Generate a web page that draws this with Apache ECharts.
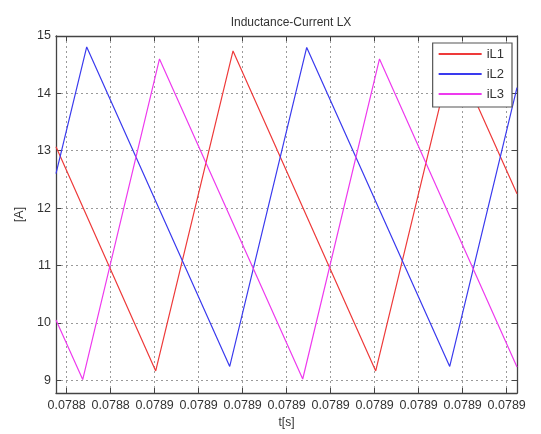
<!DOCTYPE html>
<html><head><meta charset="utf-8">
<script src="https://cdn.jsdelivr.net/npm/echarts@6/dist/echarts.min.js"></script>
<style>html,body{margin:0;padding:0;background:#fff}#c{width:541px;height:434px}</style>
</head><body><div id="c"></div>
<script>
// x values in tick-index units (tick k is labelled xTickLabels[k])
var xTickLabels = ['0.0788','0.0788','0.0789','0.0789','0.0789','0.0789','0.0789','0.0789','0.0789','0.0789','0.0789'];
var yTicks = [9, 10, 11, 12, 13, 14, 15];
var seriesNames = ['iL1', 'iL2', 'iL3'];
var iL1 = [[-0.243, 13.07], [2.023, 9.16], [3.78, 14.74], [7.023, 9.16], [8.78, 14.74], [10.234, 12.25]];
var iL2 = [[-0.243, 12.6], [0.455, 14.81], [3.705, 9.24], [5.455, 14.8], [8.705, 9.24], [10.234, 14.1]];
var iL3 = [[-0.243, 10.05], [0.364, 9.01], [2.109, 14.6], [5.364, 9.02], [7.109, 14.6], [10.234, 9.23]];

var xMin = -0.243, xMax = 10.234, yMin = 8.776, yMax = 15;
var xTicks = xTickLabels.map(function (_, i) { return i; });
var colors = ['#ee3a3a', '#3a3aee', '#ee3aee'];
var font = 'Liberation Sans, Arial, sans-serif';
var axisColor = '#444';

var chart = echarts.init(document.getElementById('c'), null, {renderer: 'canvas'});
function xAx(pos, show) {
  return {
    type: 'value', position: pos, min: xMin, max: xMax,
    name: show ? 't[s]' : '', nameLocation: 'middle', nameGap: 24,
    nameTextStyle: {fontFamily: font, fontSize: 12, color: '#333'},
    axisLine: {show: true, onZero: false, lineStyle: {color: axisColor, width: 1.3}},
    axisTick: {show: true, inside: true, length: 5, customValues: xTicks, lineStyle: {color: axisColor}},
    axisLabel: {show: show, customValues: xTicks, margin: 6, fontFamily: font, fontSize: 12.5, color: '#333',
      formatter: function (v) { var i = Math.round(v); return xTickLabels[i] || ''; }},
    splitLine: {show: show, lineStyle: {color: '#9a9a9a', type: [2, 3], width: 1}}
  };
}
function yAx(pos, show) {
  return {
    type: 'value', position: pos, min: yMin, max: yMax,
    name: show ? '[A]' : '', nameLocation: 'middle', nameGap: 28, nameRotate: 90,
    nameTextStyle: {fontFamily: font, fontSize: 12.5, color: '#333'},
    axisLine: {show: true, onZero: false, lineStyle: {color: axisColor, width: 1.3}},
    axisTick: {show: true, inside: true, length: 5, customValues: yTicks, lineStyle: {color: axisColor}},
    axisLabel: {show: show, customValues: yTicks, margin: 5, fontFamily: font, fontSize: 12.5, color: '#333'},
    splitLine: {show: show, lineStyle: {color: '#9a9a9a', type: [2, 3], width: 1}}
  };
}
var seriesData = [iL1, iL2, iL3];
chart.setOption({
  animation: false,
  backgroundColor: '#fff',
  title: {text: 'Inductance-Current LX', left: 286, textAlign: 'center', top: 12,
    textStyle: {fontFamily: font, fontSize: 12, fontWeight: 'normal', color: '#333'}},
  grid: {left: 56, top: 36, right: 24, bottom: 37},
  xAxis: [xAx('bottom', true), xAx('top', false)],
  yAxis: [yAx('left', true), yAx('right', false)],
  legend: {
    right: 29, top: 43, orient: 'vertical', itemWidth: 43, itemHeight: 2, itemGap: 6,
    icon: 'rect', backgroundColor: '#fff', borderColor: '#555', borderWidth: 1.2,
    padding: [4, 8, 6, 6],
    textStyle: {fontFamily: font, fontSize: 13, lineHeight: 14, color: '#333', padding: [0, 0, 0, 0]},
    data: seriesNames
  },
  series: seriesData.map(function (d, i) {
    return {name: seriesNames[i], type: 'line', data: d, xAxisIndex: 0, yAxisIndex: 0,
      showSymbol: false, symbol: 'none', lineStyle: {color: colors[i], width: 1.2}, itemStyle: {color: colors[i]}};
  })
});
</script></body></html>
